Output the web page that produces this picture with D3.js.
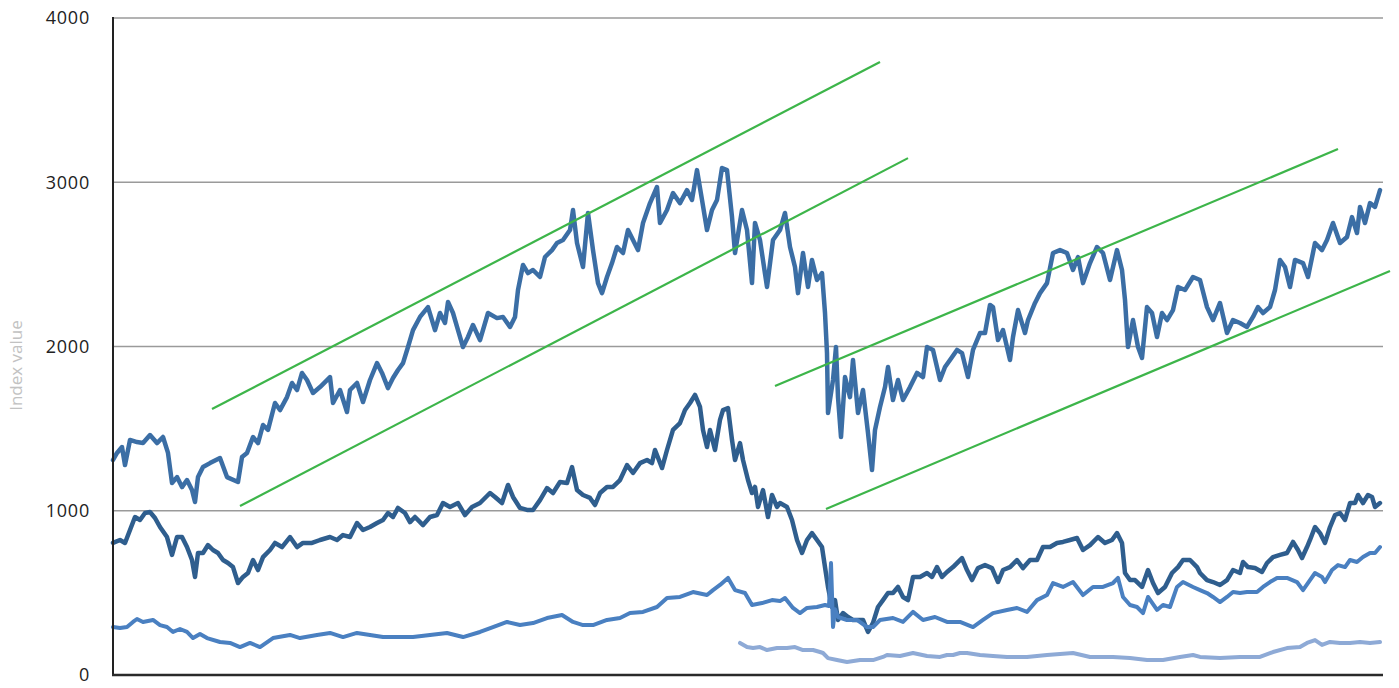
<!DOCTYPE html>
<html>
<head>
<meta charset="utf-8">
<script src="https://cdn.jsdelivr.net/npm/d3@7"></script>
<style>
  html, body { margin: 0; padding: 0; background: #ffffff; }
  svg { display: block; }
</style>
</head>
<body>
<svg id="chart" width="1399" height="688"></svg>
<script>
// ---- Data (period index, index value) ----
const yTicks = [0, 1000, 2000, 3000, 4000];
const yLabel = "Index value";

const seriesTop = [
[0,1309],[4,1352],[9,1388],[12,1278],[17,1431],[24,1418],[30,1412],[37,1461],[44,1412],[50,1449],[55,1352],[59,1169],[64,1205],[69,1144],[74,1187],[79,1126],[82,1053],[85,1205],[90,1266],[97,1290],[107,1321],[114,1205],[125,1175],[129,1327],[134,1352],[140,1449],[145,1412],[150,1522],[155,1492],[162,1656],[167,1613],[174,1692],[179,1778],[184,1735],[189,1839],[194,1796],[200,1717],[207,1753],[217,1814],[220,1656],[227,1735],[234,1601],[237,1735],[244,1778],[250,1662],[257,1796],[264,1899],[269,1839],[275,1747],[280,1808],[285,1857],[290,1899],[295,1997],[300,2100],[307,2180],[315,2240],[322,2100],[327,2204],[332,2143],[335,2271],[340,2204],[345,2100],[350,1997],[355,2058],[360,2131],[367,2039],[375,2204],[384,2173],[390,2180],[397,2119],[402,2180],[405,2344],[410,2496],[415,2447],[420,2466],[427,2423],[432,2545],[439,2587],[444,2630],[450,2648],[457,2709],[460,2831],[464,2630],[470,2484],[475,2813],[480,2587],[485,2386],[489,2325],[494,2423],[499,2508],[504,2606],[510,2569],[515,2709],[520,2648],[525,2587],[530,2752],[537,2873],[544,2971],[547,2752],[554,2831],[560,2934],[567,2873],[574,2952],[579,2892],[584,3074],[589,2892],[594,2709],[599,2831],[604,2892],[609,3087],[614,3074],[619,2788],[622,2569],[629,2831],[634,2709],[639,2386],[642,2752],[647,2648],[654,2362],[660,2648],[667,2709],[672,2813],[677,2606],[682,2484],[685,2325],[690,2569],[695,2362],[699,2527],[704,2405],[709,2447],[712,2204],[714,1960],[715,1595],[720,1796],[723,1997],[725,1692],[728,1449],[732,1814],[737,1692],[740,1918],[745,1595],[750,1735],[755,1473],[759,1248],[762,1492],[767,1632],[772,1753],[775,1875],[780,1674],[785,1796],[790,1674],[797,1753],[804,1839],[810,1814],[814,1997],[820,1979],[827,1796],[832,1875],[837,1918],[844,1979],[849,1960],[855,1814],[860,1979],[867,2082],[872,2082],[877,2253],[880,2240],[885,2039],[890,2100],[897,1918],[900,2058],[905,2222],[912,2082],[915,2161],[922,2265],[927,2325],[934,2386],[940,2569],[947,2587],[954,2569],[960,2466],[965,2545],[970,2386],[977,2508],[984,2606],[990,2569],[997,2405],[1004,2587],[1009,2466],[1012,2283],[1015,1997],[1020,2161],[1025,1997],[1029,1930],[1034,2240],[1039,2204],[1044,2058],[1049,2204],[1054,2161],[1060,2222],[1065,2362],[1072,2344],[1080,2423],[1087,2405],[1094,2240],[1100,2161],[1107,2265],[1114,2082],[1120,2161],[1127,2143],[1134,2119],[1140,2180],[1145,2240],[1150,2204],[1157,2240],[1162,2344],[1167,2527],[1172,2484],[1177,2362],[1182,2527],[1190,2508],[1195,2423],[1202,2630],[1209,2587],[1214,2648],[1220,2752],[1227,2630],[1234,2667],[1239,2788],[1244,2691],[1247,2850],[1252,2752],[1257,2873],[1262,2850],[1267,2952]
];

const seriesSecond = [
[0,804],[7,822],[12,804],[17,883],[22,962],[27,944],[32,986],[37,992],[42,956],[47,901],[54,840],[59,731],[64,840],[69,840],[74,779],[79,700],[82,597],[85,743],[90,743],[95,791],[100,761],[105,743],[110,700],[115,682],[120,657],[125,560],[130,597],[135,621],[140,700],[145,639],[150,718],[157,761],[162,804],[169,779],[177,840],[184,779],[190,804],[199,804],[207,822],[217,840],[224,822],[230,852],[237,840],[244,925],[250,883],[257,901],[264,925],[270,944],[275,986],[280,962],[285,1017],[292,986],[297,931],[302,962],[310,913],[317,962],[324,974],[330,1047],[337,1023],[345,1047],[352,974],[359,1023],[367,1047],[377,1108],[382,1084],[389,1047],[395,1157],[400,1084],[407,1017],[414,1005],[420,1005],[427,1065],[434,1138],[440,1108],[447,1175],[454,1169],[459,1266],[464,1126],[470,1096],[477,1078],[482,1035],[487,1108],[494,1145],[500,1145],[507,1187],[514,1278],[520,1230],[527,1290],[534,1309],[539,1290],[542,1370],[549,1260],[554,1370],[560,1492],[567,1534],[572,1613],[577,1656],[582,1705],[587,1632],[590,1492],[594,1388],[597,1492],[602,1370],[607,1553],[610,1613],[615,1625],[619,1431],[622,1309],[627,1412],[630,1309],[635,1187],[639,1108],[642,1145],[645,1023],[650,1126],[655,962],[659,1096],[664,1023],[667,1047],[674,1023],[679,944],[684,822],[689,743],[694,822],[699,864],[704,822],[709,779],[712,657],[715,536],[719,414],[722,456],[725,335],[730,377],[735,353],[740,335],[745,335],[750,335],[755,262],[760,317],[765,414],[770,456],[775,499],[780,499],[785,536],[790,475],[795,456],[800,597],[807,597],[814,621],[819,597],[824,657],[829,597],[834,627],[840,657],[849,712],[854,639],[859,578],[865,651],[872,669],[879,651],[885,566],[890,639],[897,657],[904,700],[910,651],[917,700],[924,700],[930,779],[937,779],[944,804],[950,810],[957,822],[964,834],[970,761],[977,791],[985,840],[992,804],[999,822],[1004,864],[1009,804],[1012,621],[1017,578],[1022,578],[1029,536],[1035,639],[1040,560],[1045,499],[1052,536],[1059,621],[1065,657],[1070,700],[1077,700],[1084,657],[1087,621],[1094,578],[1100,566],[1107,548],[1114,578],[1120,639],[1127,621],[1130,688],[1135,657],[1142,651],[1149,627],[1154,682],[1160,718],[1167,731],[1174,743],[1180,810],[1185,761],[1189,712],[1194,779],[1197,822],[1202,901],[1207,864],[1212,804],[1217,901],[1222,974],[1227,986],[1232,944],[1237,1047],[1242,1047],[1245,1096],[1250,1047],[1255,1096],[1259,1084],[1262,1023],[1267,1047]
];

const seriesThird = [
[0,292],[7,286],[14,292],[20,323],[24,341],[30,323],[40,335],[47,304],[54,292],[60,262],[67,280],[74,262],[80,225],[87,250],[94,225],[107,201],[117,195],[127,170],[137,195],[147,170],[160,225],[177,244],[187,225],[204,244],[217,256],[230,231],[244,256],[257,244],[270,231],[284,231],[300,231],[317,244],[334,256],[350,231],[367,262],[380,292],[394,323],[407,304],[420,316],[434,347],[449,365],[460,323],[470,304],[480,304],[494,335],[507,347],[517,377],[530,384],[544,414],[554,469],[567,475],[580,505],[594,487],[600,517],[607,548],[615,591],[622,517],[632,499],[639,426],[649,438],[659,456],[667,450],[672,469],[680,408],[687,377],[694,408],[704,414],[712,426],[716,420],[718,682],[720,292],[722,400],[725,353],[734,335],[744,335],[754,292],[760,292],[767,335],[780,347],[790,323],[800,384],[810,335],[822,353],[834,323],[847,323],[860,292],[870,335],[880,377],[894,396],[904,408],[914,384],[924,456],[934,487],[940,560],[950,536],[960,566],[970,487],[980,536],[990,536],[1000,560],[1005,591],[1010,475],[1017,426],[1024,414],[1030,377],[1035,475],[1044,396],[1050,426],[1057,414],[1064,536],[1070,566],[1080,536],[1087,517],[1094,499],[1100,475],[1107,444],[1114,475],[1120,505],[1127,499],[1134,505],[1144,505],[1150,536],[1157,566],[1164,591],[1174,591],[1184,566],[1190,517],[1197,578],[1202,621],[1209,597],[1212,566],[1219,639],[1225,669],[1232,657],[1237,700],[1244,688],[1250,718],[1257,743],[1262,743],[1267,779]
];

const seriesFourth = [
[627,195],[634,170],[640,164],[647,170],[654,152],[664,164],[674,164],[682,170],[690,152],[700,152],[707,140],[710,134],[715,103],[724,91],[734,79],[747,91],[760,91],[770,110],[774,122],[787,116],[800,134],[814,116],[827,110],[834,122],[840,122],[847,134],[854,134],[867,122],[880,116],[894,110],[914,110],[934,122],[960,134],[977,110],[1000,110],[1017,103],[1034,91],[1050,91],[1067,110],[1080,122],[1087,110],[1107,103],[1127,110],[1147,110],[1160,140],[1174,164],[1187,170],[1194,195],[1202,213],[1209,183],[1217,201],[1227,195],[1237,195],[1247,201],[1257,195],[1267,201]
];

// Trend channel lines: [start, end] as [period, value]
const trendLines = [
  [[99,1619],[767,3732]],
  [[127,1029],[795,3147]],
  [[662,1759],[1225,3202]],
  [[713,1011],[1277,2460]]
];

// ---- Layout ----
const svg = d3.select("#chart");
const mLeft = 113, mRight = 1383, mTop = 18, mBottom = 675;

const x = d3.scaleLinear().domain([0, 1270]).range([mLeft, mRight]);
const y = d3.scaleLinear().domain([0, 4000]).range([mBottom, mTop]);

// gridlines
svg.append("g")
  .selectAll("line")
  .data(yTicks.filter(d => d > 0))
  .join("line")
  .attr("x1", mLeft).attr("x2", mRight)
  .attr("y1", d => y(d)).attr("y2", d => y(d))
  .attr("stroke", "#9a9a9a")
  .attr("stroke-width", 1.6);

// y axis via d3.axisLeft (labels only; line drawn separately)
const yAxis = svg.append("g")
  .attr("transform", `translate(${mLeft},0)`)
  .call(d3.axisLeft(y).tickValues(yTicks).tickSize(0).tickPadding(23).tickFormat(d3.format("d")));
yAxis.select(".domain").remove();
yAxis.selectAll("text")
  .attr("font-family", "'Open Sans', sans-serif")
  .attr("font-size", 18)
  .attr("letter-spacing", "0.8px")
  .attr("fill", "#222");

// y axis label
svg.append("text")
  .attr("transform", `translate(22, ${(mTop + mBottom) / 2 + 19}) rotate(-90)`)
  .attr("text-anchor", "middle")
  .attr("font-family", "'Open Sans', sans-serif")
  .attr("font-size", 17)
  .attr("fill", "#c2c2c2")
  .text(yLabel);

// series
const line = d3.line().x(d => x(d[0])).y(d => y(d[1]));
const seriesDefs = [
  { data: seriesTop, color: "#3b6ea5", width: 4.5 },
  { data: seriesSecond, color: "#2f5e8e", width: 4.5 },
  { data: seriesThird, color: "#4a80c1", width: 4 },
  { data: seriesFourth, color: "#8eaad6", width: 4 }
];
svg.append("g")
  .selectAll("path")
  .data(seriesDefs)
  .join("path")
  .attr("d", d => line(d.data))
  .attr("fill", "none")
  .attr("stroke", d => d.color)
  .attr("stroke-width", d => d.width)
  .attr("stroke-linejoin", "round")
  .attr("stroke-linecap", "round");

// trend lines
svg.append("g")
  .selectAll("path")
  .data(trendLines)
  .join("path")
  .attr("d", d => line(d))
  .attr("fill", "none")
  .attr("stroke", "#3db54a")
  .attr("stroke-width", 2.2);

// axis lines
svg.append("line")
  .attr("x1", mLeft).attr("x2", mLeft)
  .attr("y1", y(4000) - 1).attr("y2", mBottom + 1)
  .attr("stroke", "#222").attr("stroke-width", 2);
svg.append("line")
  .attr("x1", mLeft - 1).attr("x2", mRight)
  .attr("y1", mBottom).attr("y2", mBottom)
  .attr("stroke", "#2a2a2a").attr("stroke-width", 2.6);
</script>
</body>
</html>
